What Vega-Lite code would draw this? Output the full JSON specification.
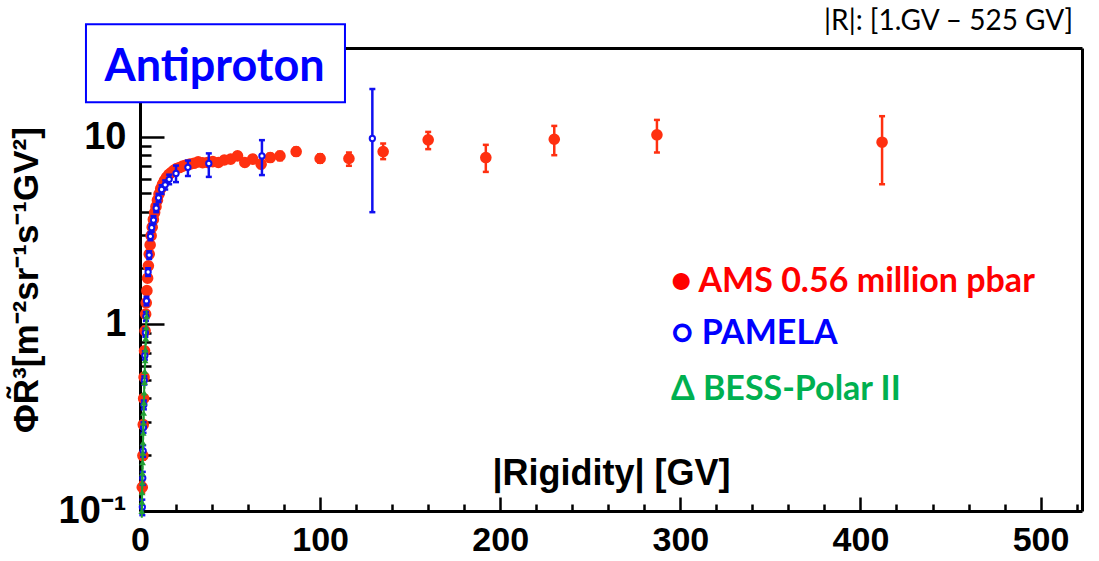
{
  "$schema": "https://vega.github.io/schema/vega-lite/v6.json",
  "width": 942,
  "height": 463,
  "autosize": {"type": "none"},
  "padding": {"left": 140, "top": 48, "right": 17, "bottom": 50},
  "background": "white",
  "config": {
    "view": {"stroke": null},
    "axis": {"grid": false, "labelFont": "Liberation Sans", "titleFont": "Liberation Sans", "labelColor": "black", "titleColor": "black", "tickColor": "black", "domainColor": "black"}
  },
  "datasets": {
    "ams": [
      {"R": 1.25, "flux": 0.134, "lo": 0.125, "hi": 0.143},
      {"R": 1.61, "flux": 0.198, "lo": 0.188, "hi": 0.208},
      {"R": 1.81, "flux": 0.29, "lo": 0.278, "hi": 0.302},
      {"R": 2.03, "flux": 0.40, "lo": 0.386, "hi": 0.414},
      {"R": 2.27, "flux": 0.52, "lo": 0.505, "hi": 0.535},
      {"R": 2.53, "flux": 0.72, "lo": 0.70, "hi": 0.74},
      {"R": 2.82, "flux": 0.92, "lo": 0.895, "hi": 0.945},
      {"R": 3.13, "flux": 1.13, "lo": 1.10, "hi": 1.16},
      {"R": 3.46, "flux": 1.30, "lo": 1.27, "hi": 1.33},
      {"R": 3.83, "flux": 1.51, "lo": 1.475, "hi": 1.545},
      {"R": 4.22, "flux": 1.76, "lo": 1.72, "hi": 1.80},
      {"R": 4.65, "flux": 2.05, "lo": 2.0, "hi": 2.1},
      {"R": 5.12, "flux": 2.37, "lo": 2.31, "hi": 2.43},
      {"R": 5.63, "flux": 2.65, "lo": 2.59, "hi": 2.71},
      {"R": 6.18, "flux": 2.97, "lo": 2.9, "hi": 3.04},
      {"R": 6.78, "flux": 3.30, "lo": 3.22, "hi": 3.38},
      {"R": 7.42, "flux": 3.63, "lo": 3.54, "hi": 3.72},
      {"R": 8.12, "flux": 3.95, "lo": 3.86, "hi": 4.04},
      {"R": 8.87, "flux": 4.25, "lo": 4.15, "hi": 4.35},
      {"R": 9.68, "flux": 4.6, "lo": 4.49, "hi": 4.71},
      {"R": 10.55, "flux": 4.96, "lo": 4.84, "hi": 5.08},
      {"R": 11.5, "flux": 5.3, "lo": 5.17, "hi": 5.43},
      {"R": 12.5, "flux": 5.6, "lo": 5.46, "hi": 5.74},
      {"R": 13.55, "flux": 5.85, "lo": 5.7, "hi": 6.0},
      {"R": 14.7, "flux": 6.09, "lo": 5.94, "hi": 6.24},
      {"R": 15.95, "flux": 6.3, "lo": 6.14, "hi": 6.46},
      {"R": 17.3, "flux": 6.46, "lo": 6.3, "hi": 6.62},
      {"R": 18.75, "flux": 6.65, "lo": 6.48, "hi": 6.82},
      {"R": 20.3, "flux": 6.8, "lo": 6.63, "hi": 6.97},
      {"R": 21.95, "flux": 6.88, "lo": 6.7, "hi": 7.06},
      {"R": 23.75, "flux": 7.0, "lo": 6.82, "hi": 7.18},
      {"R": 25.7, "flux": 7.1, "lo": 6.92, "hi": 7.28},
      {"R": 27.75, "flux": 7.17, "lo": 6.98, "hi": 7.36},
      {"R": 29.95, "flux": 7.25, "lo": 7.05, "hi": 7.45},
      {"R": 32.3, "flux": 7.38, "lo": 7.17, "hi": 7.59},
      {"R": 34.8, "flux": 7.3, "lo": 7.08, "hi": 7.52},
      {"R": 37.5, "flux": 7.32, "lo": 7.09, "hi": 7.55},
      {"R": 40.4, "flux": 7.4, "lo": 7.16, "hi": 7.64},
      {"R": 43.5, "flux": 7.32, "lo": 7.07, "hi": 7.57},
      {"R": 46.8, "flux": 7.55, "lo": 7.28, "hi": 7.82},
      {"R": 50.35, "flux": 7.63, "lo": 7.35, "hi": 7.91},
      {"R": 54.15, "flux": 7.94, "lo": 7.63, "hi": 8.25},
      {"R": 58.2, "flux": 7.32, "lo": 7.02, "hi": 7.62},
      {"R": 62.55, "flux": 7.63, "lo": 7.3, "hi": 7.96},
      {"R": 67.25, "flux": 7.17, "lo": 6.84, "hi": 7.5},
      {"R": 72.3, "flux": 7.78, "lo": 7.4, "hi": 8.16},
      {"R": 77.7, "flux": 7.94, "lo": 7.53, "hi": 8.35},
      {"R": 86.7, "flux": 8.38, "lo": 7.98, "hi": 8.8},
      {"R": 100, "flux": 7.69, "lo": 7.3, "hi": 8.1},
      {"R": 116, "flux": 7.69, "lo": 7.03, "hi": 8.28},
      {"R": 135, "flux": 8.38, "lo": 7.63, "hi": 9.25},
      {"R": 160, "flux": 9.68, "lo": 8.63, "hi": 10.67},
      {"R": 192, "flux": 7.78, "lo": 6.52, "hi": 9.1},
      {"R": 230, "flux": 9.75, "lo": 8.01, "hi": 11.49},
      {"R": 287, "flux": 10.3, "lo": 8.28, "hi": 12.37},
      {"R": 412, "flux": 9.4, "lo": 5.6, "hi": 12.95}
    ],
    "pamela": [
      {"R": 1.3, "flux": 0.105, "lo": 0.095, "hi": 0.115},
      {"R": 1.55, "flux": 0.15, "lo": 0.138, "hi": 0.162},
      {"R": 1.75, "flux": 0.21, "lo": 0.195, "hi": 0.225},
      {"R": 1.95, "flux": 0.28, "lo": 0.262, "hi": 0.298},
      {"R": 2.15, "flux": 0.37, "lo": 0.35, "hi": 0.39},
      {"R": 2.4, "flux": 0.5, "lo": 0.475, "hi": 0.525},
      {"R": 2.7, "flux": 0.68, "lo": 0.645, "hi": 0.715},
      {"R": 3.0, "flux": 0.9, "lo": 0.855, "hi": 0.945},
      {"R": 3.3, "flux": 1.1, "lo": 1.04, "hi": 1.16},
      {"R": 3.6, "flux": 1.33, "lo": 1.26, "hi": 1.4},
      {"R": 4.5, "flux": 1.9, "lo": 1.81, "hi": 1.99},
      {"R": 5.1, "flux": 2.34, "lo": 2.23, "hi": 2.45},
      {"R": 5.8, "flux": 2.95, "lo": 2.81, "hi": 3.09},
      {"R": 6.5, "flux": 3.28, "lo": 3.12, "hi": 3.44},
      {"R": 7.5, "flux": 3.6, "lo": 3.42, "hi": 3.78},
      {"R": 9.0, "flux": 4.17, "lo": 3.97, "hi": 4.37},
      {"R": 10.3, "flux": 4.74, "lo": 4.5, "hi": 4.98},
      {"R": 12.0, "flux": 5.25, "lo": 4.97, "hi": 5.53},
      {"R": 14.0, "flux": 5.56, "lo": 5.25, "hi": 5.87},
      {"R": 16.2, "flux": 5.95, "lo": 5.6, "hi": 6.3},
      {"R": 20.0, "flux": 6.4, "lo": 5.75, "hi": 7.05},
      {"R": 26.6, "flux": 6.9, "lo": 6.2, "hi": 7.5},
      {"R": 38.2, "flux": 7.23, "lo": 6.13, "hi": 8.19},
      {"R": 67.7, "flux": 7.94, "lo": 6.27, "hi": 9.64},
      {"R": 129, "flux": 9.84, "lo": 3.97, "hi": 18.1}
    ],
    "bess": [
      {"R": 1.0, "flux": 0.1, "lo": 0.092, "hi": 0.109},
      {"R": 1.08, "flux": 0.112, "lo": 0.103, "hi": 0.122},
      {"R": 1.16, "flux": 0.126, "lo": 0.116, "hi": 0.137},
      {"R": 1.25, "flux": 0.142, "lo": 0.131, "hi": 0.154},
      {"R": 1.34, "flux": 0.16, "lo": 0.147, "hi": 0.174},
      {"R": 1.44, "flux": 0.182, "lo": 0.167, "hi": 0.198},
      {"R": 1.55, "flux": 0.205, "lo": 0.189, "hi": 0.222},
      {"R": 1.66, "flux": 0.232, "lo": 0.213, "hi": 0.252},
      {"R": 1.78, "flux": 0.262, "lo": 0.241, "hi": 0.284},
      {"R": 1.9, "flux": 0.296, "lo": 0.272, "hi": 0.321},
      {"R": 2.03, "flux": 0.335, "lo": 0.308, "hi": 0.363},
      {"R": 2.17, "flux": 0.38, "lo": 0.35, "hi": 0.412},
      {"R": 2.32, "flux": 0.43, "lo": 0.396, "hi": 0.466},
      {"R": 2.48, "flux": 0.49, "lo": 0.451, "hi": 0.531},
      {"R": 2.65, "flux": 0.56, "lo": 0.515, "hi": 0.607},
      {"R": 2.83, "flux": 0.64, "lo": 0.589, "hi": 0.694},
      {"R": 3.02, "flux": 0.73, "lo": 0.672, "hi": 0.792},
      {"R": 3.22, "flux": 0.84, "lo": 0.773, "hi": 0.911},
      {"R": 3.44, "flux": 0.96, "lo": 0.883, "hi": 1.04},
      {"R": 3.67, "flux": 1.1, "lo": 1.01, "hi": 1.19}
    ],
    "legend": [
      {"series": "AMS", "text": "● AMS 0.56 million pbar", "R": 294.8, "flux": 1.488},
      {"series": "PAMELA", "text": "○  PAMELA", "R": 294.8, "flux": 0.782},
      {"series": "BESS", "text": "Δ BESS-Polar II", "R": 294.8, "flux": 0.3935}
    ],
    "badge": [
      {"R": -30.0, "R2": 113.8, "flux": 15.4, "flux2": 40.2, "text": "Antiproton", "Rc": 41.4, "fluxc": 20.0}
    ],
    "range": [
      {"text": "|R|: [1.GV – 525 GV]", "R": 518.0, "flux": 37.3}
    ]
  },
  "resolve": {"axis": {"x": "independent", "y": "independent"}},
  "layer": [
    {
      "data": {"name": "ams"},
      "mark": {"type": "rule", "color": "#ff3010", "strokeWidth": 2.5},
      "encoding": {
        "x": {"field": "R", "type": "quantitative", "scale": {"domain": [0, 523], "nice": false, "zero": false},
          "axis": {"orient": "bottom", "values": [20, 40, 60, 80, 120, 140, 160, 180, 220, 240, 260, 280, 320, 340, 360, 380, 420, 440, 460, 480, 520], "tickSize": -7, "tickWidth": 2.5, "labels": false, "domain": false, "title": null}},
        "y": {"field": "lo", "type": "quantitative", "scale": {"type": "log", "domain": [0.1, 30], "nice": false},
          "axis": {"orient": "left", "values": [0.2, 0.3, 0.4, 0.5, 0.6, 0.7, 0.8, 0.9, 2, 3, 4, 5, 6, 7, 8, 9, 20], "tickSize": -11, "tickWidth": 2.5, "labels": false, "domain": false, "title": null}},
        "y2": {"field": "hi"}
      }
    },
    {
      "data": {"name": "ams"},
      "transform": [{"fold": ["lo", "hi"], "as": ["end", "bound"]}],
      "mark": {"type": "tick", "orient": "horizontal", "color": "#ff3010", "size": 6, "thickness": 2.5, "opacity": 1},
      "encoding": {
        "x": {"field": "R", "type": "quantitative", "axis": null},
        "y": {"field": "bound", "type": "quantitative", "axis": null}
      }
    },
    {
      "data": {"name": "ams"},
      "mark": {"type": "circle", "color": "#ff3010", "size": 135, "opacity": 1},
      "encoding": {
        "x": {"field": "R", "type": "quantitative",
          "axis": {"orient": "bottom", "values": [0, 100, 200, 300, 400, 500], "tickSize": -14, "tickWidth": 2.5, "domain": true, "domainWidth": 3, "labelFontSize": 34, "labelFontWeight": "bold", "labelPadding": 26, "labelFlush": false, "labelOverlap": false,
            "title": "|Rigidity| [GV]", "titleFontSize": 36, "titleFontWeight": "bold", "titleBaseline": "alphabetic", "titleY": -27}},
        "y": {"field": "flux", "type": "quantitative",
          "axis": {"orient": "left", "values": [0.1, 1, 10], "labelExpr": "datum.value < 0.5 ? '10⁻¹' : (datum.value < 5 ? '1' : '10')", "tickSize": -24, "tickWidth": 2.5, "domain": true, "domainWidth": 3, "labelFontSize": 38, "labelFontWeight": "bold", "labelPadding": 38, "labelFlush": false, "labelOverlap": false,
            "title": "ΦR̃³[m⁻²sr⁻¹s⁻¹GV²]", "titleFontSize": 35, "titleFontWeight": "bold", "titlePadding": 14}}
      }
    },
    {
      "data": {"name": "pamela"},
      "mark": {"type": "rule", "color": "#1010f0", "strokeWidth": 2.5},
      "encoding": {
        "x": {"field": "R", "type": "quantitative",
          "axis": {"orient": "top", "ticks": false, "labels": false, "domain": true, "domainWidth": 3, "title": null}},
        "y": {"field": "lo", "type": "quantitative",
          "axis": {"orient": "right", "ticks": false, "labels": false, "domain": true, "domainWidth": 3, "title": null}},
        "y2": {"field": "hi"}
      }
    },
    {
      "data": {"name": "pamela"},
      "transform": [{"fold": ["lo", "hi"], "as": ["end", "bound"]}],
      "mark": {"type": "tick", "orient": "horizontal", "color": "#1010f0", "size": 6, "thickness": 2.5, "opacity": 1},
      "encoding": {
        "x": {"field": "R", "type": "quantitative", "axis": null},
        "y": {"field": "bound", "type": "quantitative", "axis": null}
      }
    },
    {
      "data": {"name": "pamela"},
      "mark": {"type": "point", "shape": "circle", "filled": false, "fill": "white", "fillOpacity": 1, "stroke": "#1010f0", "strokeWidth": 2, "size": 28, "opacity": 1},
      "encoding": {
        "x": {"field": "R", "type": "quantitative", "axis": null},
        "y": {"field": "flux", "type": "quantitative", "axis": null}
      }
    },
    {
      "data": {"name": "bess"},
      "mark": {"type": "rule", "color": "#22a035", "strokeWidth": 2},
      "encoding": {
        "x": {"field": "R", "type": "quantitative", "axis": null},
        "y": {"field": "lo", "type": "quantitative", "axis": null},
        "y2": {"field": "hi"}
      }
    },
    {
      "data": {"name": "bess"},
      "mark": {"type": "point", "shape": "triangle-up", "filled": true, "color": "#22a035", "size": 45, "opacity": 1},
      "encoding": {
        "x": {"field": "R", "type": "quantitative", "axis": null},
        "y": {"field": "flux", "type": "quantitative", "axis": null}
      }
    },
    {
      "data": {"name": "badge"},
      "mark": {"type": "rect", "fill": "white", "stroke": "#0000ff", "strokeWidth": 2},
      "encoding": {
        "x": {"field": "R", "type": "quantitative", "axis": null},
        "x2": {"field": "R2"},
        "y": {"field": "flux", "type": "quantitative", "axis": null},
        "y2": {"field": "flux2"}
      }
    },
    {
      "data": {"name": "badge"},
      "mark": {"type": "text", "font": "Lato", "fontWeight": "bold", "fontSize": 45, "color": "#0000ff", "align": "center", "baseline": "alphabetic"},
      "encoding": {
        "x": {"field": "Rc", "type": "quantitative", "axis": null},
        "y": {"field": "fluxc", "type": "quantitative", "axis": null},
        "text": {"field": "text"}
      }
    },
    {
      "data": {"name": "legend"},
      "mark": {"type": "text", "font": "Lato", "fontWeight": "bold", "fontSize": 34, "align": "left", "baseline": "alphabetic"},
      "encoding": {
        "x": {"field": "R", "type": "quantitative", "axis": null},
        "y": {"field": "flux", "type": "quantitative", "axis": null},
        "text": {"field": "text"},
        "color": {"field": "series", "type": "nominal", "legend": null,
          "scale": {"domain": ["AMS", "PAMELA", "BESS"], "range": ["#ff0000", "#0000ff", "#00b050"]}}
      }
    },
    {
      "data": {"name": "range"},
      "mark": {"type": "text", "font": "Lato", "fontSize": 28, "color": "black", "align": "right", "baseline": "alphabetic"},
      "encoding": {
        "x": {"field": "R", "type": "quantitative", "axis": null},
        "y": {"field": "flux", "type": "quantitative", "axis": null},
        "text": {"field": "text"}
      }
    }
  ]
}
